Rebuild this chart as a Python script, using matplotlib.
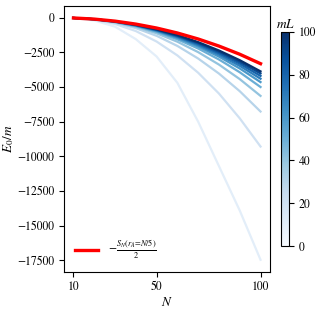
import numpy as np
import matplotlib
matplotlib.use("Agg")
import matplotlib.pyplot as plt
from matplotlib import cm, colors

plt.rcParams['font.family'] = ['STIXGeneral', 'DejaVu Sans']
plt.rcParams['mathtext.fontset'] = 'stix'
plt.rcParams['font.size'] = 8.5

# data
N = [10, 20, 30, 40, 50, 60, 70, 80, 90, 100]
mL_values = [10, 20, 30, 40, 50, 60, 70, 80, 90, 100]
E0_over_m = [
    [-24, -200, -650, -1550, -2800, -4700, -7500, -10700, -13900, -17450],
    [-24, -151, -454, -967, -1723, -2723, -3971, -5471, -7255, -9288],
    [-24, -131, -368, -755, -1310, -2039, -2947, -4030, -5300, -6767],
    [-24, -122, -330, -660, -1127, -1735, -2487, -3383, -4429, -5639],
    [-24, -117, -308, -606, -1022, -1562, -2225, -3016, -3936, -4999],
    [-24, -114, -296, -577, -965, -1466, -2081, -2811, -3662, -4644],
    [-24, -113, -288, -556, -925, -1400, -1982, -2672, -3474, -4402],
    [-24, -111, -281, -539, -893, -1345, -1899, -2555, -3319, -4199],
    [-24, -110, -275, -524, -864, -1297, -1827, -2453, -3181, -4020],
    [-24, -108, -270, -512, -839, -1256, -1765, -2367, -3065, -3871],
]
half_entropy = [-24, -104, -251, -465, -749, -1107, -1539, -2049, -2638, -3317]

fig = plt.figure(figsize=(3.19, 3.10), dpi=100)
ax = fig.add_axes([0.201, 0.123, 0.645, 0.858])
cax = fig.add_axes([0.881, 0.206, 0.025, 0.691])

norm = colors.Normalize(vmin=0, vmax=100)
cmap = plt.get_cmap('Blues')

for mL, vals in zip(mL_values, E0_over_m):
    ax.plot(N, vals, color=cmap(norm(mL)), lw=1.6)

ax.plot(N, half_entropy, color='red', lw=2.4,
        label=r'$-\frac{S_N(r_A\!=\!N/5)}{2}$')

ax.set_xticks([10, 50, 100])
ax.set_yticks([0, -2500, -5000, -7500, -10000, -12500, -15000, -17500])
ax.set_xlabel(r'$N$', fontsize=9.5)
ax.set_ylabel(r'$E_0/m$', fontsize=9.5)
ax.xaxis.set_label_coords(0.5, -0.09)
ax.yaxis.set_label_coords(-0.235, 0.5)
ax.legend(loc='lower left', frameon=False, fontsize=8.5)

sm = cm.ScalarMappable(norm=norm, cmap=cmap)
cb = fig.colorbar(sm, cax=cax)
cb.set_ticks([0, 20, 40, 60, 80, 100])
cax.set_title(r'$mL$', fontsize=9.5, pad=3)

plt.savefig('out.png', dpi=100)
